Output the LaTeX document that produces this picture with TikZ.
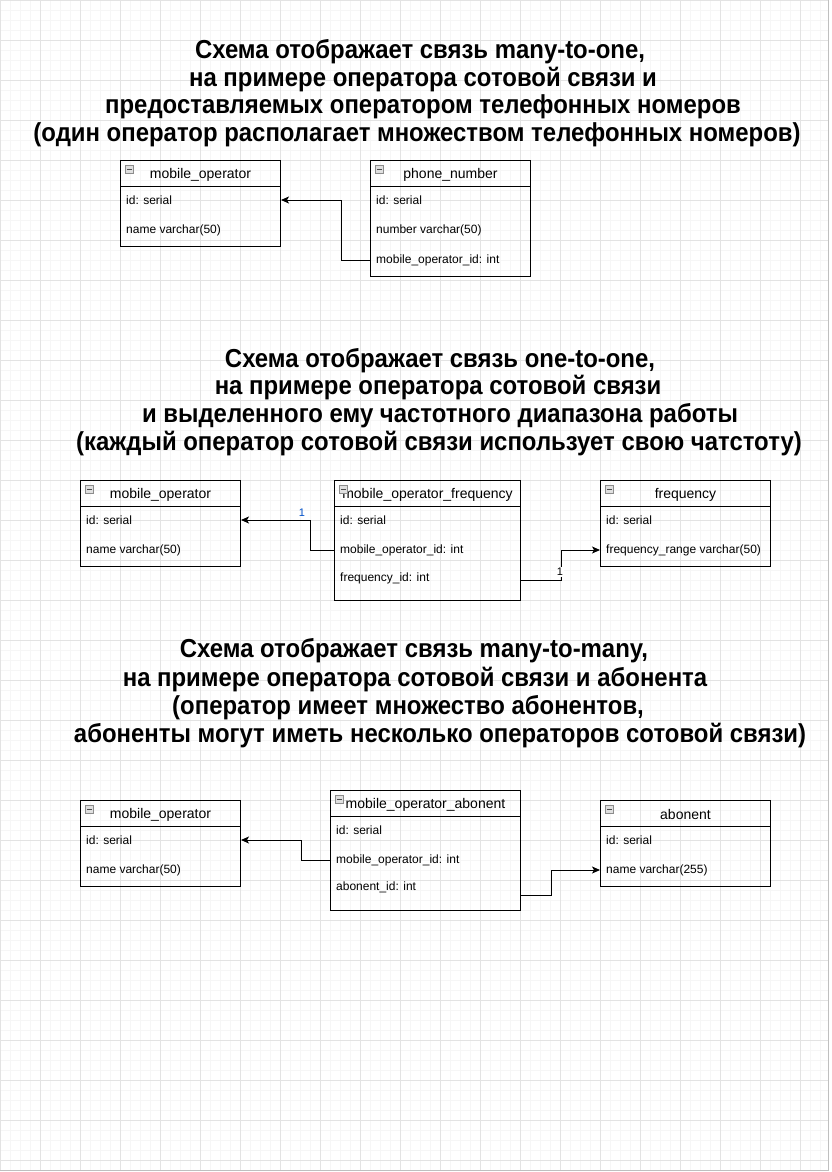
\documentclass[tikz,border=0pt]{standalone}
\usepackage{fontspec}
\setmainfont{Liberation Sans}
\newfontfamily\titlefont[FakeStretch=0.92]{Liberation Sans}
\usetikzlibrary{arrows.meta,calc}
\definecolor{lblblue}{RGB}{0,80,200}
\begin{document}
\begin{tikzpicture}[x=1pt,y=-1pt,
  minorgrid/.style={draw=black!3.5,line width=0.8pt},
  majorgrid/.style={draw=black!11,line width=0.8pt},
  tbl/.style={draw=black,line width=1pt,anchor=north west,inner sep=0pt,minimum height=#1},
  hdr/.style={font=\fontsize{14}{16}\selectfont,inner sep=0pt,anchor=center},
  rowtxt/.style={font=\fontsize{12}{14}\selectfont,anchor=west,inner xsep=6pt,inner ysep=0pt},
  icon/.style={draw=black!45,fill=black!12,minimum size=8pt,inner sep=0pt,line width=0.7pt,
    path picture={\draw[line width=1pt,black!70]([xshift=-2.5pt]path picture bounding box.center)--([xshift=2.5pt]path picture bounding box.center);}},
  conn/.style={draw=black,line width=1pt,-{Stealth[length=8pt,width=7pt,inset=2pt]}},
  plain/.style={draw=black,line width=1pt},
  title/.style={font=\titlefont\bfseries\fontsize{26}{30}\selectfont,anchor=base,inner sep=0pt},
  lbl/.style={font=\fontsize{11}{12}\selectfont,inner sep=1pt}
]
\useasboundingbox (0,0) rectangle (831,1172);
\fill[white] (0,0) rectangle (831,1172);
% grid
\foreach \x in {0,10,...,820} \draw[minorgrid] (\x,0) -- (\x,1170);
\foreach \y in {0,10,...,1170} \draw[minorgrid] (0,\y) -- (828,\y);
\foreach \x in {0,40,...,800} \draw[majorgrid] (\x,0) -- (\x,1170);
\foreach \y in {0,40,...,1160} \draw[majorgrid] (0,\y) -- (828,\y);
\draw[black!25,line width=1.5pt] (828.5,0) -- (828.5,1170.5) -- (0,1170.5);

% ---------- titles ----------
\node[title] (t1a) at (420,59) {Схема отображает связь many-to-one,};
\node[title] (t1b) at (423,86) {на примере оператора сотовой связи и};
\node[title] (t1c) at (423,113) {предоставляемых оператором телефонных номеров};
\node[title] (t1d) at (417,141) {(один оператор располагает множеством телефонных номеров)};

\node[title] (t2a) at (440,367) {Схема отображает связь one-to-one,};
\node[title] (t2b) at (438,394) {на примере оператора сотовой связи};
\node[title] (t2c) at (440,422) {и выделенного ему частотного диапазона работы};
\node[title] (t2d) at (439,450) {(каждый оператор сотовой связи использует свою чатстоту)};

\node[title] (t3a) at (414,657) {Схема отображает связь many-to-many,};
\node[title] (t3b) at (415,686) {на примере оператора сотовой связи и абонента};
\node[title] (t3c) at (408,714) {(оператор имеет множество абонентов,};
\node[title] (t3d) at (440,742) {абоненты могут иметь несколько операторов сотовой связи)};

% ---------- section 1 ----------
\node[tbl=86,minimum width=160] (mo1) at (120,160) {};
\draw[plain] ([yshift=-26pt]mo1.north west) -- ([yshift=-26pt]mo1.north east);
\node[icon] (mo1i) at ([xshift=9.5pt,yshift=-9.5pt]mo1.north west) {};
\node[hdr] (mo1h) at ([yshift=-14.5pt]mo1.north) {mobile\_operator};
\node[rowtxt] (mo1a) at ([yshift=-40pt]mo1.north west) {id: serial};
\node[rowtxt] (mo1b) at ([yshift=-70pt]mo1.north west) {name varchar(50)};

\node[tbl=116,minimum width=160] (pn) at (370,160) {};
\draw[plain] ([yshift=-26pt]pn.north west) -- ([yshift=-26pt]pn.north east);
\node[icon] (pni) at ([xshift=9.5pt,yshift=-9.5pt]pn.north west) {};
\node[hdr] (pnh) at ([yshift=-14.5pt]pn.north) {phone\_number};
\node[rowtxt] (pna) at ([yshift=-40pt]pn.north west) {id: serial};
\node[rowtxt] (pnb) at ([yshift=-70pt]pn.north west) {number varchar(50)};
\node[rowtxt] (pnc) at ([yshift=-100pt]pn.north west) {mobile\_operator\_id: int};

\draw[conn] (pnc.west) -- ++(-29,0) |- (mo1.east |- mo1a);

% ---------- section 2 ----------
\node[tbl=86,minimum width=160] (mo2) at (80,480) {};
\draw[plain] ([yshift=-26pt]mo2.north west) -- ([yshift=-26pt]mo2.north east);
\node[icon] (mo2i) at ([xshift=9.5pt,yshift=-9.5pt]mo2.north west) {};
\node[hdr] (mo2h) at ([yshift=-14.5pt]mo2.north) {mobile\_operator};
\node[rowtxt] (mo2a) at ([yshift=-40pt]mo2.north west) {id: serial};
\node[rowtxt] (mo2b) at ([yshift=-70pt]mo2.north west) {name varchar(50)};

\node[tbl=120,minimum width=186] (mof) at (334,480) {};
\draw[plain] ([yshift=-26pt]mof.north west) -- ([yshift=-26pt]mof.north east);
\node[hdr] (mofh) at ([yshift=-14.5pt]mof.north) {mobile\_operator\_frequency};
\node[icon] (mofi) at ([xshift=9.5pt,yshift=-9.5pt]mof.north west) {};
\node[rowtxt] (mofa) at ([yshift=-40pt]mof.north west) {id: serial};
\node[rowtxt] (mofb) at ([yshift=-70pt]mof.north west) {mobile\_operator\_id: int};
\node[rowtxt] (mofc) at ([yshift=-98pt]mof.north west) {frequency\_id: int};

\node[tbl=86,minimum width=170] (fr) at (600,480) {};
\draw[plain] ([yshift=-26pt]fr.north west) -- ([yshift=-26pt]fr.north east);
\node[icon] (fri) at ([xshift=9.5pt,yshift=-9.5pt]fr.north west) {};
\node[hdr] (frh) at ([yshift=-14.5pt]fr.north) {frequency};
\node[rowtxt] (fra) at ([yshift=-40pt]fr.north west) {id: serial};
\node[rowtxt] (frb) at ([yshift=-70pt]fr.north west) {frequency\_range varchar(50)};

\coordinate (mofout) at ([yshift=-100.5pt]mof.north east);
\draw[conn] (mofb.west) -- ++(-24,0) |- (mo2.east |- mo2a);
\node[lbl,text=lblblue] (l1) at (302,513) {1};
\draw[conn] (mofout) -- ++(40,0) |- (frb.west);
\node[lbl,fill=white,text=black] (l2) at (560,572) {1};

% ---------- section 3 ----------
\node[tbl=86,minimum width=160] (mo3) at (80,800) {};
\draw[plain] ([yshift=-26pt]mo3.north west) -- ([yshift=-26pt]mo3.north east);
\node[icon] (mo3i) at ([xshift=9.5pt,yshift=-9.5pt]mo3.north west) {};
\node[hdr] (mo3h) at ([yshift=-14.5pt]mo3.north) {mobile\_operator};
\node[rowtxt] (mo3a) at ([yshift=-40pt]mo3.north west) {id: serial};
\node[rowtxt] (mo3b) at ([yshift=-70pt]mo3.north west) {name varchar(50)};

\node[tbl=120,minimum width=190] (moa) at (330,790) {};
\draw[plain] ([yshift=-26pt]moa.north west) -- ([yshift=-26pt]moa.north east);
\node[hdr] (moah) at ([yshift=-14.5pt]moa.north) {mobile\_operator\_abonent};
\node[icon] (moai) at ([xshift=9.5pt,yshift=-9.5pt]moa.north west) {};
\node[rowtxt] (moaa) at ([yshift=-40pt]moa.north west) {id: serial};
\node[rowtxt] (moab) at ([yshift=-70pt]moa.north west) {mobile\_operator\_id: int};
\node[rowtxt] (moac) at ([yshift=-97pt]moa.north west) {abonent\_id: int};

\node[tbl=86,minimum width=170] (ab) at (600,800) {};
\draw[plain] ([yshift=-26pt]ab.north west) -- ([yshift=-26pt]ab.north east);
\node[icon] (abi) at ([xshift=9.5pt,yshift=-9.5pt]ab.north west) {};
\node[hdr] (abh) at ([yshift=-14.5pt]ab.north) {abonent};
\node[rowtxt] (aba) at ([yshift=-40pt]ab.north west) {id: serial};
\node[rowtxt] (abb) at ([yshift=-70pt]ab.north west) {name varchar(255)};

\coordinate (moaout) at ([yshift=-105.5pt]moa.north east);
\draw[conn] (moab.west) -- ++(-29,0) |- (mo3.east |- mo3a);
\draw[conn] (moaout) -- ++(30,0) |- (abb.west);
\end{tikzpicture}
\end{document}
